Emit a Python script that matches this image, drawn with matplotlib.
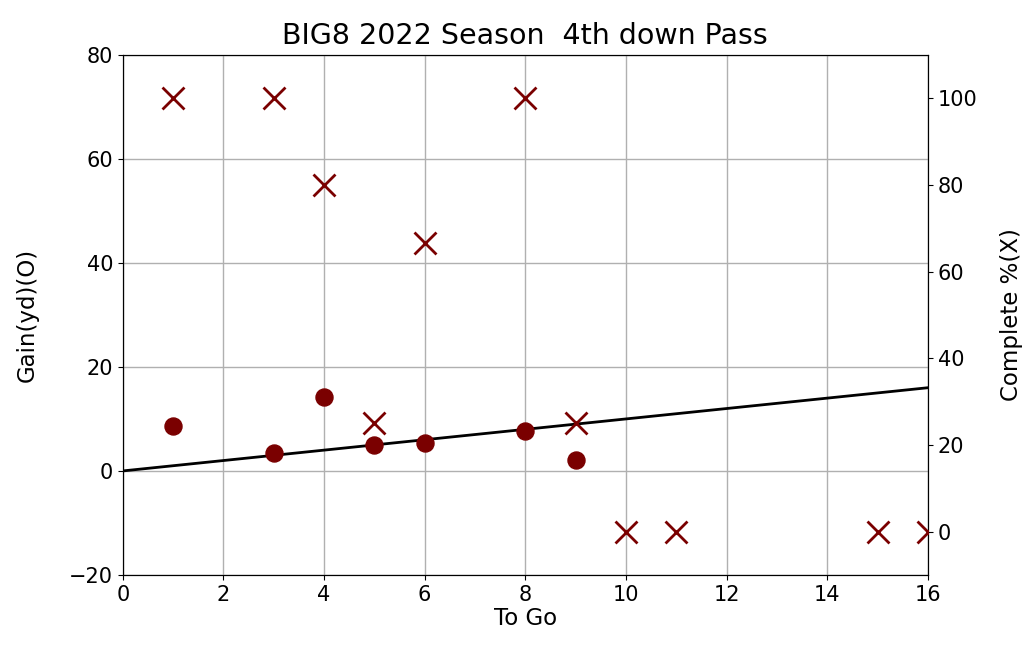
import matplotlib
matplotlib.use("Agg")
import matplotlib.pyplot as plt
import numpy as np

# data
togo = [1, 3, 4, 5, 6, 8, 9]
gain = [8.6, 3.5, 14.2, 5.0, 5.4, 7.7, 2.1]
comp_togo = [1, 3, 4, 5, 6, 8, 9, 10, 11, 15, 16]
complete = [100, 100, 80, 25, 66.7, 100, 25, 0, 0, 0, 0]
line_x = [0, 16]
line_y = [0, 16]

plt.rcParams['font.size'] = 15

fig = plt.figure(figsize=(10.23, 6.46), dpi=100)
ax = fig.add_axes([0.120, 0.110, 0.787, 0.805])
ax.scatter(togo, gain, s=150, color='#7a0000', zorder=3)
ax.plot(line_x, line_y, color='black', lw=2, zorder=2)
ax.set_xlim(0, 16)
ax.set_ylim(-20, 80)
ax.set_xticks(range(0, 17, 2))
ax.set_yticks(range(-20, 81, 20))
ax.grid(True, color='#b0b0b0', lw=1)
ax.set_xlabel("To Go", fontsize=16.5, labelpad=2)
ax.set_ylabel("Gain(yd)(O)", fontsize=16.5, labelpad=22)
ax.set_title("BIG8 2022 Season  4th down Pass", fontsize=20.5, pad=8)

ax2 = ax.twinx()
ax2.scatter(comp_togo, complete, s=250, marker='x', color='#7a0000', linewidths=2, zorder=3)
ax2.set_ylim(-10, 110)
ax2.set_yticks(range(0, 101, 20))
ax2.set_ylabel("Complete %(X)", fontsize=16.5, labelpad=16)

fig.savefig("out.png", dpi=100)
